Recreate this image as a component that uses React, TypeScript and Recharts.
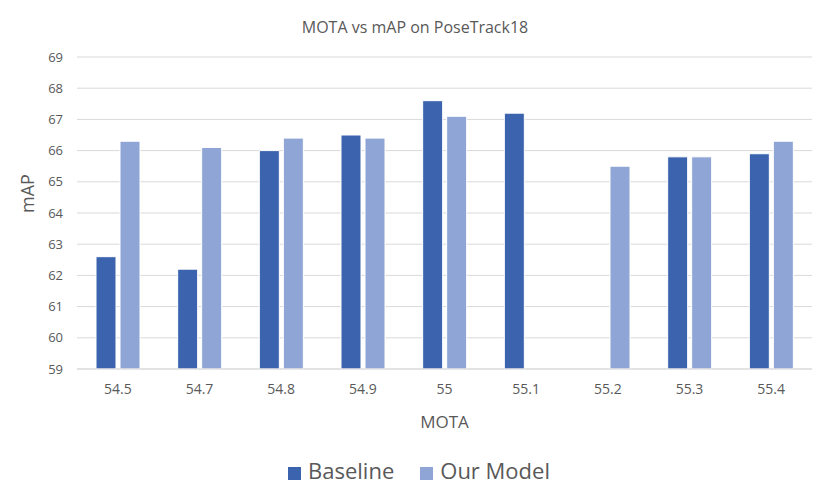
import React from 'react';
import {
  BarChart,
  Bar,
  XAxis,
  YAxis,
  CartesianGrid,
  Legend,
} from 'recharts';

const mota = ['54.5', '54.7', '54.8', '54.9', '55', '55.1', '55.2', '55.3', '55.4'];
const baseline = [62.6, 62.2, 66.0, 66.5, 67.6, 67.2, null, 65.8, 65.9];
const ourModel = [66.3, 66.1, 66.4, 66.4, 67.1, null, 65.5, 65.8, 66.3];
const yTicks = [59, 60, 61, 62, 63, 64, 65, 66, 67, 68, 69];

const data = mota.map((m, i) => ({ mota: m, baseline: baseline[i], ourModel: ourModel[i] }));

const font = "'Open Sans', 'Noto Sans', sans-serif";
const textColor = '#595959';

const App = () => {
  return (
    <div style={{ position: 'absolute', left: 0, top: 0, width: 830, height: 501, fontFamily: font, background: '#fff' }}>
      <div style={{ position: 'absolute', top: 16, width: 830, textAlign: 'center', fontSize: 16, color: textColor }}>
        MOTA vs mAP on PoseTrack18
      </div>
      <BarChart
        width={830}
        height={501}
        data={data}
        margin={{ top: 57, right: 18, left: 0, bottom: 72 }}
        barGap={4}
      >
        <CartesianGrid vertical={false} stroke="#d9d9d9" strokeWidth={1} />
        <XAxis
          dataKey="mota"
          tickLine={false}
          axisLine={{ stroke: '#d9d9d9' }}
          tick={{ fill: textColor, fontSize: 14 }}
          tickMargin={9}
          height={30}
          label={{ value: 'MOTA', position: 'bottom', offset: 17, fill: textColor, fontSize: 17 }}
        />
        <YAxis
          domain={[59, 69]}
          ticks={yTicks}
          interval={0}
          tickLine={false}
          axisLine={false}
          width={77}
          tick={{ fill: textColor, fontSize: 13 }}
          tickMargin={8}
          label={{ value: 'mAP', angle: -90, position: 'insideLeft', offset: 28, fill: textColor, fontSize: 18 }}
        />
        <Legend
          verticalAlign="bottom"
          iconType="square"
          iconSize={13}
          wrapperStyle={{ bottom: 16, left: 26, fontSize: 22, color: textColor }}
          formatter={(v) => <span style={{ color: textColor, marginLeft: 3, marginRight: 16 }}>{v}</span>}
        />
        <Bar dataKey="baseline" name="Baseline" fill="#3c64ae" stroke="#ffffff" strokeWidth={1} barSize={20} isAnimationActive={false} />
        <Bar dataKey="ourModel" name="Our Model" fill="#8fa5d5" stroke="#ffffff" strokeWidth={1} barSize={20} isAnimationActive={false} />
      </BarChart>
    </div>
  );
};

export default App;
